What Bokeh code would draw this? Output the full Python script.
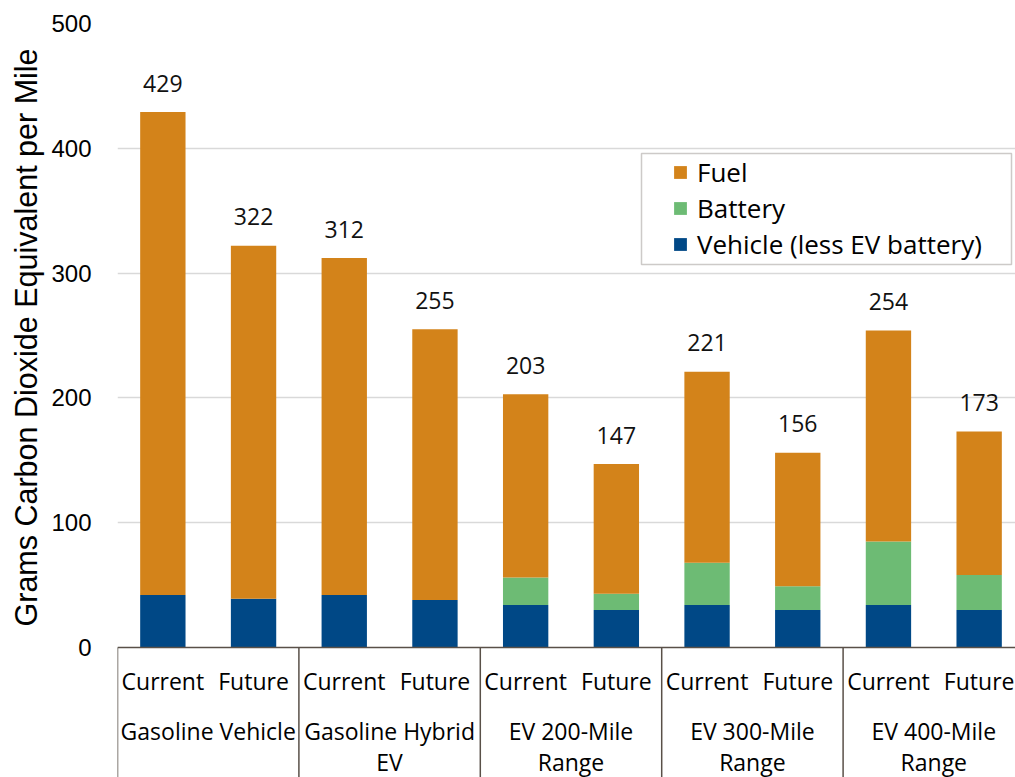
from bokeh.plotting import figure
from bokeh.models import (ColumnDataSource, Range1d, FixedTicker, Legend, LegendItem,
                          Span, Title, BoxAnnotation)
from bokeh.core.properties import value
from bokeh.embed import file_html
from bokeh.resources import INLINE

# ---- data ----
groups = ["Gasoline Vehicle", "Gasoline Hybrid\nEV", "EV 200-Mile\nRange",
          "EV 300-Mile\nRange", "EV 400-Mile\nRange"]
scenarios = ["Current", "Future"]
totals = [429, 322, 312, 255, 203, 147, 221, 156, 254, 173]
vehicle = [42, 39, 42, 38, 34, 30, 34, 30, 34, 30]
battery = [0, 0, 0, 0, 22, 13, 34, 19, 51, 28]
fuel = [387, 283, 270, 217, 147, 104, 153, 107, 169, 115]
series_names = ["Vehicle (less EV battery)", "Battery", "Fuel"]
y_ticks = [0, 100, 200, 300, 400, 500]
y_title = "Grams Carbon Dioxide Equivalent per Mile"

# ---- style / layout ----
C_FUEL = "#D3831A"
C_BATT = "#6DBB74"
C_VEH = "#004886"
LINE = "#595048"
FONT = "Open Sans"
W, H = 1015, 777
FL, FT = 117, 23          # frame left / top in px
X_PX = 90.7               # px per category slot
Y_PX = 1.248              # px per y unit
Y0 = 647                  # px of y = 0


def px_x(px):
    return -0.5 + (px - FL) / X_PX


def px_y(py):
    return (Y0 - py) / Y_PX


n = len(totals)
xs = list(range(n))
src = ColumnDataSource(dict(x=xs, vehicle=vehicle, battery=battery, fuel=fuel,
                            total=totals, lbl=[str(t) for t in totals]))

xr = Range1d(-0.5, px_x(W))
yr = Range1d(px_y(H), 500)

p = figure(width=W, height=H, x_range=xr, y_range=yr,
           output_backend="svg", toolbar_location=None, x_axis_location=None,
           min_border_left=FL, min_border_right=0, min_border_top=FT,
           min_border_bottom=0)
p.outline_line_color = None
p.xgrid.visible = False
p.ygrid.ticker = FixedTicker(ticks=y_ticks[1:])
p.ygrid.grid_line_color = "#D9D9D9"
p.ygrid.grid_line_width = 1.5

ax = p.yaxis[0]
ax.ticker = FixedTicker(ticks=y_ticks)
ax.axis_line_color = None
ax.major_tick_line_color = None
ax.minor_tick_line_color = None
ax.major_tick_out = 0
ax.major_tick_in = 0
ax.major_label_standoff = 26
ax.major_label_text_font = "Liberation Sans"
ax.major_label_text_font_size = "24px"
ax.major_label_text_color = "#000000"

# y-axis title: starts 151 px above the bottom, so it is centred on the 0-500 span
p.add_layout(Title(text=y_title, align="left", offset=151, standoff=12,
                   text_font="Liberation Sans", text_font_size="30.5px",
                   text_font_style="normal", text_color="#000000"), "left")

rs = p.vbar_stack(["vehicle", "battery", "fuel"], x="x", width=0.5, source=src,
                  color=[C_VEH, C_BATT, C_FUEL], line_color=None)

p.text(x="x", y="total", text="lbl", source=src, text_align="center",
       text_baseline="alphabetic", y_offset=-29, text_font=value(FONT),
       text_font_size="23px", text_color="#111111")

# ---- category axis (below y = 0) ----
p.add_layout(Span(location=0, dimension="width", line_color=LINE, line_width=1.5))

bounds = [2 * i - 0.5 for i in range(len(groups))]
p.segment(x0=bounds, x1=bounds, y0=[0] * len(bounds), y1=[yr.start] * len(bounds),
          line_color=LINE, line_width=1.5)

sub_src = ColumnDataSource(dict(x=xs, y=[0] * n,
                                t=[scenarios[i % 2] for i in range(n)]))
p.text(x="x", y="y", text="t", source=sub_src, text_align="center",
       text_baseline="middle", y_offset=33, text_font=value(FONT),
       text_font_size="23px", text_color="#000000")

g_x = [2 * i + 0.5 for i in range(len(groups))]
grp_src = ColumnDataSource(dict(x=g_x, y=[0] * len(groups), t=groups))
p.text(x="x", y="y", text="t", source=grp_src, text_align="center",
       text_baseline="top", y_offset=67, text_font=value(FONT), text_font_size="23px",
       text_color="#000000", text_line_height=0.99)

# ---- legend ----
p.add_layout(BoxAnnotation(left=px_x(641), right=px_x(1011), top=px_y(153),
                           bottom=px_y(264), fill_color="white", fill_alpha=1.0,
                           line_color=LINE, line_width=1.5, level="annotation"))

legend = Legend(items=[LegendItem(label=series_names[2], renderers=[rs[2]]),
                       LegendItem(label=series_names[1], renderers=[rs[1]]),
                       LegendItem(label=series_names[0], renderers=[rs[0]])],
                location=(672 - FL, H - 262))
legend.padding = 0
legend.spacing = 0
legend.label_height = 36
legend.glyph_height = 16
legend.glyph_width = 16
legend.label_standoff = 9
legend.label_text_font = FONT
legend.label_text_font_size = "26px"
legend.label_text_color = "#000000"
legend.border_line_color = None
legend.background_fill_alpha = 0.0
legend.margin = 0
p.add_layout(legend)

open("out.html", "w").write(file_html(p, INLINE))
